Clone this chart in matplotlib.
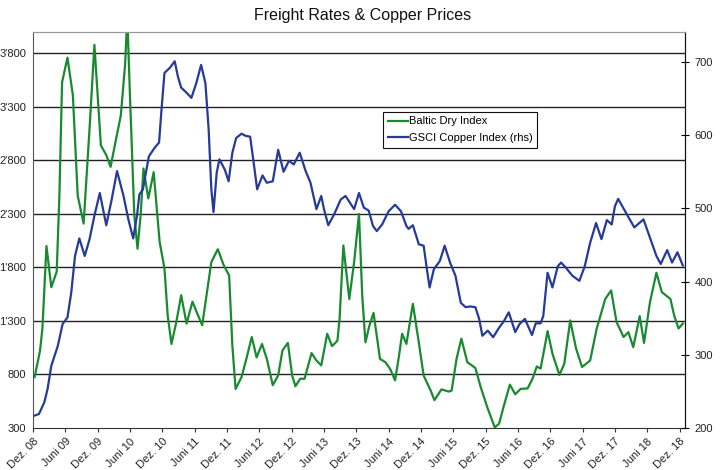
#!/usr/bin/env python3
import matplotlib

matplotlib.use("Agg")
import matplotlib.pyplot as plt

# months since Dec 2008
BDI_MONTHS = [
    0.3, 1.3, 1.75, 2.5, 3.4, 4.4, 4.9, 5.4, 6.4, 7.4, 8.3, 9.4, 10.5, 11.4, 12.6, 13.6,
    14.4, 15.3, 16.3, 17.1, 17.5, 18.0, 18.8, 19.4, 20.0, 20.5, 21.4, 22.4, 23.5, 24.4,
    25.0, 25.7, 26.6, 27.5, 28.5, 29.6, 30.4, 31.4, 32.2, 33.1, 34.3, 35.4, 36.4, 37.0,
    37.6, 38.7, 39.6, 40.6, 41.5, 42.5, 43.4, 44.5, 45.5, 46.3, 47.3, 48.1, 48.7, 49.6,
    50.4, 51.7, 52.6, 53.5, 54.6, 55.5, 56.5, 56.9, 57.6, 58.7, 59.6, 60.5, 61.1, 61.7,
    62.4, 63.2, 64.4, 65.4, 66.3, 67.2, 67.9, 68.5, 69.3, 70.5, 71.6, 72.5, 73.8, 74.5,
    75.8, 77.2, 77.7, 78.6, 79.5, 80.6, 81.3, 82.1, 83.1, 84.3, 85.1, 85.7, 86.5, 87.4,
    88.5, 89.5, 90.5, 91.8, 92.7, 93.5, 94.2, 94.9, 95.5, 96.4, 97.7, 98.6, 99.7, 100.8,
    101.9, 103.4, 104.6, 106.2, 107.3, 108.3, 109.6, 110.5, 111.4, 112.6, 113.4, 114.5,
    115.7, 116.7, 118.3, 119.0, 119.8, 120.6,
]
BDI_VALUES = [
    775, 1020, 1230, 2000, 1615, 1760, 2470, 3530, 3760, 3410, 2470, 2210, 3100, 3880, 2940, 2850,
    2740, 2970, 3220, 3700, 4150, 3400, 2290, 1975, 2300, 2725, 2445, 2690, 2040, 1790,
    1350, 1085, 1290, 1540, 1275, 1480, 1380, 1260, 1540, 1850, 1970, 1820, 1725, 1070,
    665, 775, 945, 1150, 960, 1085, 945, 700, 790, 1025, 1095, 790, 690, 760,
    760, 1000, 930, 885, 1180, 1065, 1115, 1320, 2005, 1505, 1850, 2300, 1540, 1100,
    1250, 1375, 945, 915, 850, 745, 965, 1180, 1085, 1460, 1100, 790, 650, 560,
    660, 640, 650, 945, 1135, 915, 890, 860, 680, 495, 385, 305, 340, 510,
    705, 615, 665, 670, 760, 875, 855, 1040, 1205, 995, 795, 900, 1305, 1040,
    870, 930, 1225, 1505, 1585, 1290, 1150, 1195, 1055, 1345, 1095, 1475,
    1750, 1570, 1505, 1350, 1230, 1275,
]

COPPER_MONTHS = [
    0.3, 1.1, 2.1, 2.7, 3.4, 4.6, 5.5, 6.4, 7.1, 7.8, 8.6, 9.6, 10.5, 11.4, 12.4, 13.6,
    14.6, 15.6, 16.8, 17.7, 18.6, 19.3, 19.75, 20.4, 21.5, 22.6, 23.4, 23.8, 24.4, 25.4,
    26.3, 26.9, 27.5, 28.5, 29.4, 30.3, 31.2, 32.0, 32.6, 33.1, 33.5, 34.1, 34.6, 35.6,
    36.3, 37.0, 37.7, 38.7, 39.5, 40.3, 41.0, 41.6, 42.6, 43.4, 44.5, 45.5, 46.5, 47.5,
    48.4, 49.5, 50.6, 51.5, 52.6, 53.5, 54.0, 54.8, 55.9, 57.1, 58.0, 58.8, 59.6, 60.5,
    61.4, 62.3, 63.1, 63.8, 64.8, 66.0, 67.2, 68.3, 69.3, 69.7, 70.5, 71.6, 72.5, 73.1,
    73.6, 74.4, 75.5, 76.4, 77.4, 78.4, 79.4, 80.3, 81.2, 82.1, 82.8, 83.4, 84.4, 85.4,
    86.5, 87.4, 88.3, 89.5, 90.3, 91.3, 92.6, 93.3, 94.2, 94.7, 95.5, 96.4, 97.4, 98.0,
    98.9, 100.1, 101.4, 102.4, 103.4, 104.5, 105.5, 106.5, 107.4, 108.0, 108.6, 110.2,
    111.6, 113.3, 114.5, 115.7, 116.5, 117.7, 118.6, 119.6, 120.6,
]
COPPER_VALUES = [
    217, 219, 235, 253, 285, 312, 342, 351, 385, 435, 459, 435, 458, 490, 521, 477,
    512, 551, 517, 485, 459, 490, 519, 526, 571, 583, 590, 630, 685, 692,
    701, 680, 665, 658, 651, 671, 696, 671, 608, 526, 495, 549, 567, 553,
    537, 576, 596, 602, 599, 598, 560, 526, 545, 535, 537, 580, 550, 565,
    560, 576, 551, 535, 499, 517, 499, 477, 492, 512, 517, 508, 499, 521,
    501, 497, 476, 469, 478, 496, 505, 496, 476, 472, 477, 451, 449, 417,
    392, 417, 428, 449, 426, 408, 371, 365, 366, 365, 349, 326, 333, 324,
    337, 346, 358, 331, 342, 349, 327, 343, 343, 353, 412, 392, 421, 426,
    419, 408, 401, 421, 453, 480, 458, 484, 478, 503, 513, 492,
    474, 485, 460, 435, 424, 443, 426, 440, 422,
]

X_TICKS = list(range(0, 121, 6))
X_LABELS = []
for year in range(8, 19):
    X_LABELS.append(f"Dez. {year:02d}")
    if year < 18:
        X_LABELS.append(f"Juni {year + 1:02d}")

LEFT_TICKS = [300, 800, 1300, 1800, 2300, 2800, 3300, 3800]
RIGHT_TICKS = [200, 300, 400, 500, 600, 700]

GREEN = "#198a30"
BLUE = "#263a99"

plt.rcParams["font.family"] = ["Liberation Sans", "DejaVu Sans"]


def _thousands(value: int) -> str:
    return f"{value:,}".replace(",", "'")


def main() -> int:
    fig = plt.figure(figsize=(7.25, 4.7), dpi=100)
    ax = fig.add_axes([0.0455, 0.0894, 0.8993, 0.8426])
    ax2 = ax.twinx()

    ax.set_xlim(0, 121)
    ax.set_ylim(300, 4000)
    ax2.set_ylim(200, 741)

    for y in LEFT_TICKS[1:]:
        ax.axhline(y, color="#222222", linewidth=1.0, zorder=1)

    (bdi_line,) = ax.plot(BDI_MONTHS, BDI_VALUES, color=GREEN, linewidth=1.6,
                          solid_joinstyle="round", label="Baltic Dry Index", zorder=3)
    (cu_line,) = ax2.plot(COPPER_MONTHS, COPPER_VALUES, color=BLUE, linewidth=1.6,
                          solid_joinstyle="round", label="GSCI Copper Index (rhs)", zorder=3)

    ax.set_yticks(LEFT_TICKS)
    ax.set_yticklabels([_thousands(v) for v in LEFT_TICKS], fontsize=8, color="#222222")
    ax.tick_params(axis="y", length=0, pad=5)

    ax.set_xticks(X_TICKS)
    ax.set_xticklabels(X_LABELS, fontsize=8, rotation=45, ha="right",
                       rotation_mode="anchor", color="#222222")
    ax.tick_params(axis="x", direction="out", length=3, pad=3, color="#333333")

    ax2.set_yticks(RIGHT_TICKS)
    ax2.set_yticklabels([str(v) for v in RIGHT_TICKS], fontsize=8, color="#222222")
    ax2.tick_params(axis="y", direction="inout", length=6, pad=4)

    ax.spines["top"].set_color("#999999")
    ax2.spines["top"].set_color("#999999")
    ax.spines["left"].set_color("#555555")
    ax.spines["bottom"].set_color("#333333")
    ax2.spines["right"].set_color("#111111")
    ax2.spines["left"].set_visible(False)
    ax2.spines["bottom"].set_visible(False)

    # legend on the twin axes so it sits above both lines
    legend = ax2.legend(handles=[bdi_line, cu_line], loc="upper left",
                        bbox_to_anchor=(0.537, 0.798), borderaxespad=0, fontsize=8,
                        frameon=True, fancybox=False, framealpha=1, handlelength=1.8,
                        handletextpad=0.1, borderpad=0.4, labelspacing=0.6)
    legend.get_frame().set_edgecolor("#111111")
    legend.get_frame().set_linewidth(0.8)

    fig.text(0.5, 0.967, "Freight Rates & Copper Prices", ha="center", va="center",
             fontsize=11.5, color="#111111")

    fig.savefig("out.png", dpi=100)
    plt.close(fig)
    return 0


if __name__ == "__main__":
    raise SystemExit(main())
